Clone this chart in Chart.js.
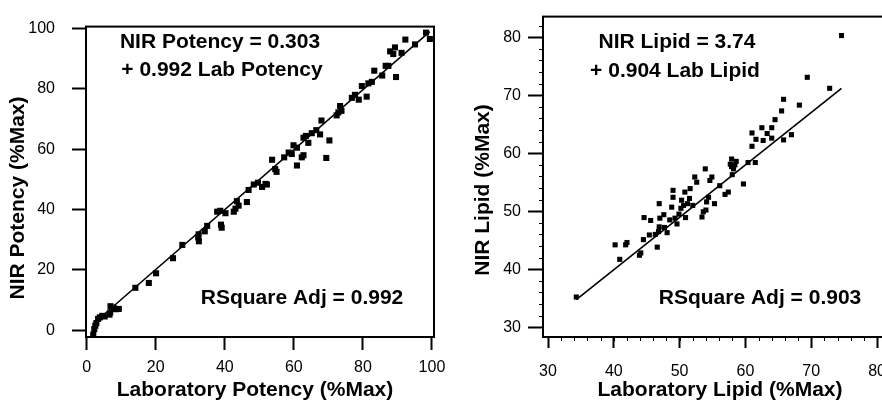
<!DOCTYPE html>
<html>
<head>
<meta charset="utf-8">
<script src="https://cdn.jsdelivr.net/npm/chart.js@4.4.1/dist/chart.umd.min.js"></script>
<style>
  html, body { margin: 0; padding: 0; background: #fff; overflow: hidden; width: 882px; height: 401px; }
  canvas { position: absolute; top: 0; }
  #potency { left: 0; }
  #lipid { left: 441px; }
</style>
</head>
<body>
<canvas id="potency" width="470" height="401"></canvas>
<canvas id="lipid" width="460" height="401"></canvas>
<script>
// Potency calibration: laboratory reference vs NIR prediction (%Max)
const potencyLab = [1.9, 2.2, 2.5, 2.8, 3.3, 3.8, 4.5, 5.2, 6.6, 6.8, 6.9, 7.8, 8.5, 9.3, 14.1, 18.0, 20.1, 25.0, 27.7,
  32.3, 32.4, 32.5, 34.2, 34.9, 37.8, 38.7, 38.9, 39.1, 40.2, 42.6, 43.1, 43.5, 44.0, 46.4, 46.9, 48.4, 49.6, 50.8,
  51.8, 52.2, 53.7, 54.6, 55.0, 57.2, 58.5, 59.4, 59.9, 60.9, 60.9, 62.3, 62.8, 62.8, 63.5, 64.2, 65.2, 66.5, 67.6,
  68.0, 69.4, 70.3, 72.4, 72.9, 73.4, 73.8, 76.8, 77.7, 78.8, 79.7, 81.1, 81.6, 82.6, 83.3, 85.6, 86.6, 87.4, 87.9,
  88.8, 89.3, 89.6, 91.2, 92.3, 95.1, 98.3, 99.4];
const potencyNir = [-1.4, 0.4, 1.5, 2.4, 3.8, 4.3, 4.8, 4.6, 5.2, 5.9, 8.0, 7.5, 7.0, 7.1, 14.1, 15.7, 18.9, 23.9, 28.3,
  30.8, 31.8, 29.5, 32.8, 34.6, 39.3, 39.6, 35.0, 34.0, 38.8, 39.3, 40.3, 42.8, 41.3, 42.5, 46.5, 48.3, 48.9, 47.5,
  48.5, 48.3, 56.5, 53.4, 52.5, 57.3, 58.9, 58.4, 61.3, 60.5, 54.6, 57.3, 58.0, 63.8, 64.4, 62.1, 65.3, 66.3, 64.9,
  69.5, 57.1, 62.9, 71.2, 72.2, 74.3, 72.7, 77.0, 78.0, 76.4, 80.9, 77.4, 81.8, 82.3, 86.0, 84.4, 87.6, 87.6, 92.4,
  91.5, 93.7, 83.9, 91.9, 96.3, 94.7, 98.6, 96.5];
const potencyFit = { intercept: 0.303, slope: 0.992, rsqAdj: 0.992 };
const potencyTicks = [0, 20, 40, 60, 80, 100];

// Lipid calibration: laboratory reference vs NIR prediction (%Max)
const lipidLab = [34.3, 40.2, 40.9, 41.8, 42.0, 43.9, 44.1, 44.5, 44.6, 45.6, 45.4, 46.3, 46.6, 46.8, 46.9, 46.9, 47.0,
  47.6, 47.7, 48.1, 48.5, 48.8, 49.0, 49.0, 49.3, 49.6, 49.9, 50.2, 50.3, 50.6, 50.8, 50.9, 51.2, 51.6, 51.5, 52.0,
  52.3, 52.6, 53.4, 53.6, 53.9, 54.0, 54.1, 54.4, 54.6, 54.9, 55.3, 56.1, 56.9, 57.4, 57.7, 57.9, 58.0, 58.2, 58.4,
  58.6, 57.9, 59.7, 60.4, 61.5, 61.0, 61.0, 61.6, 62.5, 62.7, 63.3, 64.0, 64.0, 64.5, 65.5, 65.8, 65.8, 67.0, 68.2,
  69.4, 72.8, 74.6];
const lipidNir = [35.2, 44.2, 41.7, 44.2, 44.6, 42.4, 42.8, 45.1, 48.9, 48.4, 45.9, 46.0, 43.8, 46.5, 47.3, 51.3, 48.8,
  49.4, 47.2, 46.3, 48.5, 50.7, 53.6, 52.4, 48.8, 47.8, 49.5, 50.5, 51.9, 51.0, 53.3, 48.9, 51.3, 53.9, 52.2, 51.0,
  55.9, 55.0, 49.0, 49.9, 57.3, 50.2, 51.6, 52.4, 55.3, 55.9, 51.3, 54.4, 52.9, 53.3, 58.1, 59.0, 56.3, 57.3, 58.0,
  58.6, 57.7, 54.7, 58.4, 58.4, 61.2, 63.5, 62.4, 64.4, 62.2, 63.4, 64.4, 62.6, 65.8, 67.3, 69.3, 62.3, 63.2, 68.3,
  73.1, 71.2, 80.3];
const lipidFit = { intercept: 3.74, slope: 0.904, rsqAdj: 0.903 };
const lipidTicks = [30, 40, 50, 60, 70, 80];

const FONT = "'Liberation Sans', Arial, Helvetica, sans-serif";

// Fitted regression line spanning the measured laboratory range
function fitLine(xs, fit) {
  const lo = Math.min(...xs), hi = Math.max(...xs);
  return [lo, hi].map(x => ({ x: x, y: fit.intercept + fit.slope * x }));
}

function pairs(xs, ys) {
  return xs.map((x, i) => ({ x: x, y: ys[i] }));
}

// Frame, minor ticks and text labels drawn on top of the plot
function decorPlugin(opts) {
  return {
    id: 'decor',
    afterDraw(chart) {
      const ctx = chart.ctx;
      const a = chart.chartArea;
      ctx.save();
      ctx.strokeStyle = '#000';
      ctx.lineWidth = 2;
      ctx.strokeRect(a.left, a.top, a.right - a.left, a.bottom - a.top);

      if (opts.minorStep) {
        const xs = chart.scales.x, ys = chart.scales.y;
        ctx.lineWidth = 1;
        ctx.beginPath();
        for (let v = Math.ceil(xs.min / opts.minorStep) * opts.minorStep; v <= xs.max; v += opts.minorStep) {
          const px = Math.round(xs.getPixelForValue(v)) + 0.5;
          ctx.moveTo(px, a.bottom);
          ctx.lineTo(px, a.bottom + 4);
        }
        for (let v = Math.ceil(ys.min / opts.minorStep) * opts.minorStep; v <= ys.max; v += opts.minorStep) {
          const py = Math.round(ys.getPixelForValue(v)) + 0.5;
          ctx.moveTo(a.left, py);
          ctx.lineTo(a.left - 4, py);
        }
        ctx.stroke();
      }

      ctx.fillStyle = '#000';
      ctx.textAlign = 'center';
      ctx.textBaseline = 'middle';
      ctx.font = 'bold 21px ' + FONT;
      opts.texts.forEach(t => {
        ctx.fillText(t.text, t.x, t.y);
      });
      ctx.fillText(opts.xTitle.text, opts.xTitle.x, opts.xTitle.y);
      ctx.save();
      ctx.translate(opts.yTitle.x, opts.yTitle.y);
      ctx.rotate(-Math.PI / 2);
      ctx.fillText(opts.yTitle.text, 0, 0);
      ctx.restore();
      ctx.restore();
    }
  };
}

function axis(range, ticks, tickLength, padding, fitSize, isX) {
  return {
    type: 'linear',
    min: range[0],
    max: range[1],
    afterBuildTicks: s => { s.ticks = ticks.map(v => ({ value: v })); },
    afterFit: s => { if (isX) s.height = fitSize; else s.width = fitSize; },
    border: { display: false },
    grid: {
      drawOnChartArea: false,
      drawTicks: true,
      tickLength: tickLength,
      tickWidth: 2,
      tickColor: '#000'
    },
    ticks: {
      color: '#000',
      autoSkip: false,
      maxRotation: 0,
      padding: padding,
      font: { family: FONT, size: 16 }
    }
  };
}

function makeChart(id, cfg) {
  return new Chart(document.getElementById(id), {
    type: 'scatter',
    data: {
      datasets: [
        {
          data: pairs(cfg.lab, cfg.nir),
          pointStyle: 'rect',
          pointRadius: cfg.pointRadius,
          backgroundColor: '#000',
          borderColor: '#000',
          borderWidth: 0,
          clip: false
        },
        {
          type: 'line',
          data: fitLine(cfg.lab, cfg.fit),
          borderColor: '#000',
          borderWidth: 1.6,
          pointRadius: 0,
          fill: false
        }
      ]
    },
    options: {
      responsive: false,
      animation: false,
      events: [],
      layout: { padding: cfg.padding },
      plugins: { legend: { display: false }, tooltip: { enabled: false } },
      scales: {
        x: axis(cfg.xRange, cfg.ticks, cfg.xTick[0], cfg.xTick[1], cfg.xHeight, true),
        y: axis(cfg.yRange, cfg.ticks, cfg.yTick[0], cfg.yTick[1], cfg.yWidth, false)
      }
    },
    plugins: [decorPlugin(cfg.decor)]
  });
}

makeChart('potency', {
  lab: potencyLab, nir: potencyNir, fit: potencyFit, ticks: potencyTicks,
  pointRadius: 4.3,
  xRange: [-0.2, 100.6], yRange: [-2.2, 100.6],
  padding: { top: 14, right: 36, left: 0, bottom: 0 },
  xHeight: 64, yWidth: 86,
  xTick: [13, 8], yTick: [14, 17],
  decor: {
    texts: [
      { text: 'NIR Potency = ' + potencyFit.intercept, x: 220, y: 42 },
      { text: '+ ' + potencyFit.slope + ' Lab Potency', x: 222, y: 70 },
      { text: 'RSquare Adj = ' + potencyFit.rsqAdj, x: 302, y: 298 }
    ],
    xTitle: { text: 'Laboratory Potency (%Max)', x: 255, y: 390 },
    yTitle: { text: 'NIR Potency (%Max)', x: 18, y: 198 }
  }
});

makeChart('lipid', {
  lab: lipidLab, nir: lipidNir, fit: lipidFit, ticks: lipidTicks,
  pointRadius: 3.6,
  xRange: [29.24, 81.06], yRange: [28.3, 83.57],
  padding: { top: 12, right: 17, left: 0, bottom: 0 },
  xHeight: 64, yWidth: 102,
  xTick: [11, 14], yTick: [15, 7],
  decor: {
    minorStep: 2,
    texts: [
      { text: 'NIR Lipid = ' + lipidFit.intercept, x: 236, y: 42 },
      { text: '+ ' + lipidFit.slope + ' Lab Lipid', x: 234, y: 71 },
      { text: 'RSquare Adj = ' + lipidFit.rsqAdj, x: 319, y: 298 }
    ],
    xTitle: { text: 'Laboratory Lipid (%Max)', x: 279, y: 390 },
    yTitle: { text: 'NIR Lipid (%Max)', x: 42, y: 190 }
  }
});
</script>
</body>
</html>
